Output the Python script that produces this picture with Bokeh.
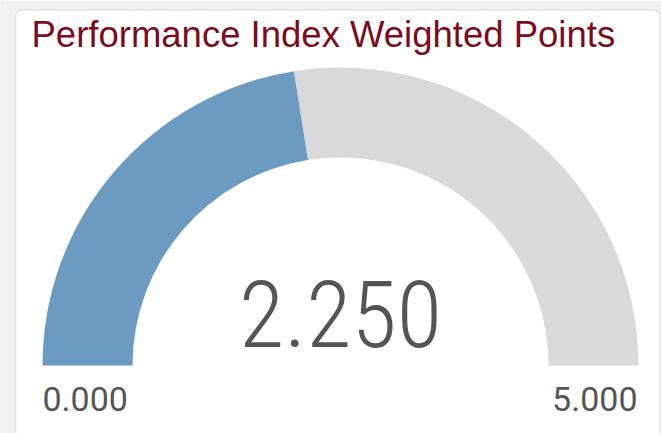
import math
from bokeh.plotting import figure
from bokeh.models import Range1d, Label, BoxAnnotation
from bokeh.embed import file_html
from bokeh.resources import INLINE

# ---- data ----
title_text = "Performance Index Weighted Points"
gauge_min = [0.0]
gauge_max = [5.0]
gauge_value = [2.25]

W, H = 661, 433
p = figure(width=W, height=H, output_backend="svg", toolbar_location=None,
           x_range=Range1d(0, W), y_range=Range1d(0, H),
           x_axis_location=None, y_axis_location=None, min_border=0)
p.grid.visible = False
p.outline_line_color = None
p.background_fill_color = "#f1f1f1"
p.border_fill_color = "#f1f1f1"

# card
card = BoxAnnotation(left=15, right=659.5, top=423.5, bottom=-20, level="underlay",
                     fill_color="white", fill_alpha=1.0,
                     line_color="#b4b4b4", line_width=1.5, border_radius=7)
p.add_layout(card)

vmin, vmax, val = gauge_min[0], gauge_max[0], gauge_value[0]
frac = (val - vmin) / (vmax - vmin)
split = math.pi * (1 - frac)

cx, cy, r_in, r_out = 340, 68, 208, 298
p.annular_wedge(x=[cx], y=[cy], inner_radius=r_in, outer_radius=r_out,
                start_angle=[0], end_angle=[split],
                fill_color="#d9d9d9", line_color=None)
p.annular_wedge(x=[cx], y=[cy], inner_radius=r_in, outer_radius=r_out,
                start_angle=[split], end_angle=[math.pi],
                fill_color="#6b9bc0", line_color=None)

p.add_layout(Label(x=31, y=399, text=title_text, text_font="Liberation Sans",
                   text_font_size="36.5px", text_color="#7b0c1e",
                   text_baseline="alphabetic", text_align="left"))
p.add_layout(Label(x=cx, y=120, text=f"{val:.3f}", text_font="Roboto Condensed Light",
                   text_font_size="93px", text_color="#555555",
                   text_baseline="alphabetic", text_align="center"))
p.add_layout(Label(x=cx - r_out, y=35, text=f"{vmin:.3f}", text_font="Roboto",
                   text_font_size="34px", text_color="#555555",
                   text_baseline="alphabetic", text_align="left"))
p.add_layout(Label(x=cx + r_out - 1, y=35, text=f"{vmax:.3f}", text_font="Roboto",
                   text_font_size="34px", text_color="#555555",
                   text_baseline="alphabetic", text_align="right"))

open("out.html", "w").write(file_html(p, INLINE))
